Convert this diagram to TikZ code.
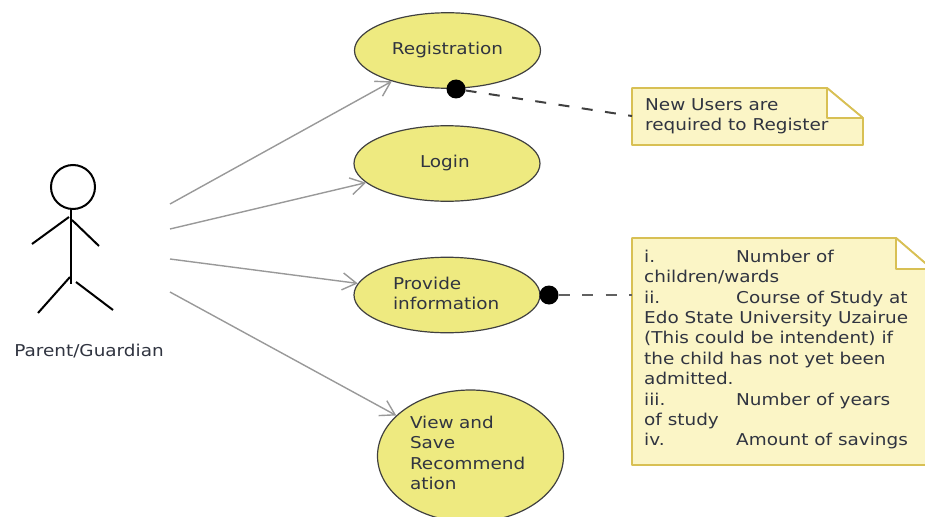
\documentclass[tikz,border=0pt]{standalone}
\usepackage{fontspec}
\setmainfont[FakeStretch=1.13]{DejaVu Sans}
\usetikzlibrary{arrows.meta,shapes.geometric}
\definecolor{usecasefill}{RGB}{238,234,128}
\definecolor{notefill}{RGB}{251,245,198}
\definecolor{noteedge}{RGB}{216,192,84}
\definecolor{inktext}{RGB}{48,52,64}
\newcommand{\notetab}[1]{\makebox[92pt][l]{#1}}

\begin{document}
\begin{tikzpicture}[%
x=1pt,y=-1pt,
every node/.style={font=\fontsize{16.3}{20.35}\selectfont,text=inktext},
usecase/.style={ellipse,draw=black!75,fill=usecasefill,line width=1.2pt,inner sep=0pt,minimum width=186pt,minimum height=75.5pt},
assoc/.style={color=black!40,line width=1.4pt,-{Straight Barb[length=14pt,width=17pt]}},
stickline/.style={color=black,line width=2pt},
notepaper/.style={fill=notefill,draw=noteedge,line width=1.8pt,line join=round},
notetext/.style={anchor=north west,align=left,inner sep=0pt},
notelink/.style={color=black!75,line width=2pt,dash pattern=on 11pt off 12.5pt},
dotmark/.style={circle,fill=black,inner sep=0pt,minimum size=19pt},
]
\useasboundingbox (0,0) rectangle (925,516);
\clip (0,0) rectangle (925,516);
%% actor;
\node (head) [circle,draw=black,line width=2pt,inner sep=0pt,minimum size=44pt] at (73,187) {};
\draw [stickline] (71,208) -- (71,284);
\draw [stickline] (32,244) -- (69,217);
\draw [stickline] (72,220) -- (99,246);
\draw [stickline] (38,313) -- (70,277);
\draw [stickline] (76,282) -- (113,310);
\node (parent) at (89,351) {Parent/Guardian};
%% use cases;
\node (registration) [usecase] at (447.5,50.5) {Registration};
\node (login) [usecase,text width=54pt,align=left] at (447,163.5) {Login};
\node (provide) [usecase,text width=108pt,align=left] at (447,295) {Provide\\information\par\vspace{3pt}};
\node (view) [usecase,minimum height=132pt,text width=121pt,align=left] at (470.5,456) {View and\\Save\\Recommend\\ation\par\vspace{6pt}};
%% associations;
\coordinate (actorA) at (170,204);
\coordinate (actorB) at (170,229);
\coordinate (actorC) at (170,259);
\coordinate (actorD) at (170,292);
\draw [assoc] (actorA) -- (registration);
\draw [assoc] (actorB) -- (login);
\draw [assoc] (actorC) -- (provide);
\draw [assoc] (actorD) -- (view);
%% notes;
\filldraw [notepaper] (632,88) -- (827,88) -- (863,118) -- (863,145) -- (632,145) -- cycle;
\fill [white] (827,88) -- (827,118) -- (863,118) -- cycle;
\draw [notepaper,fill=none] (863,118) -- (827,118) -- (827,88) -- (863,118);
\node (regnote) [notetext] at (645,98) {New Users are\\required to Register};
\filldraw [notepaper] (632,238) -- (896,238) -- (932,269) -- (932,465) -- (632,465) -- cycle;
\fill [white] (896,238) -- (896,269) -- (932,269) -- cycle;
\draw [notepaper,fill=none] (932,269) -- (896,269) -- (896,238) -- (932,269);
\node (infonote) [notetext] at (644,250) {\notetab{i.}Number of\\children/wards\\\notetab{ii.}Course of Study at\\Edo State University Uzairue\\(This could be intendent) if\\the child has not yet been\\admitted.\\\notetab{iii.}Number of years\\of study\\\notetab{iv.}Amount of savings};
%% note links;
\node (regdot) [dotmark] at (456,89) {};
\node (infodot) [dotmark] at (549,295) {};
\coordinate (regedge) at (632,116);
\coordinate (infoedge) at (632,295);
\draw [notelink] (regdot) -- (regedge);
\draw [notelink,color=black!62] (infodot) -- (infoedge);
\end{tikzpicture}
\end{document}
